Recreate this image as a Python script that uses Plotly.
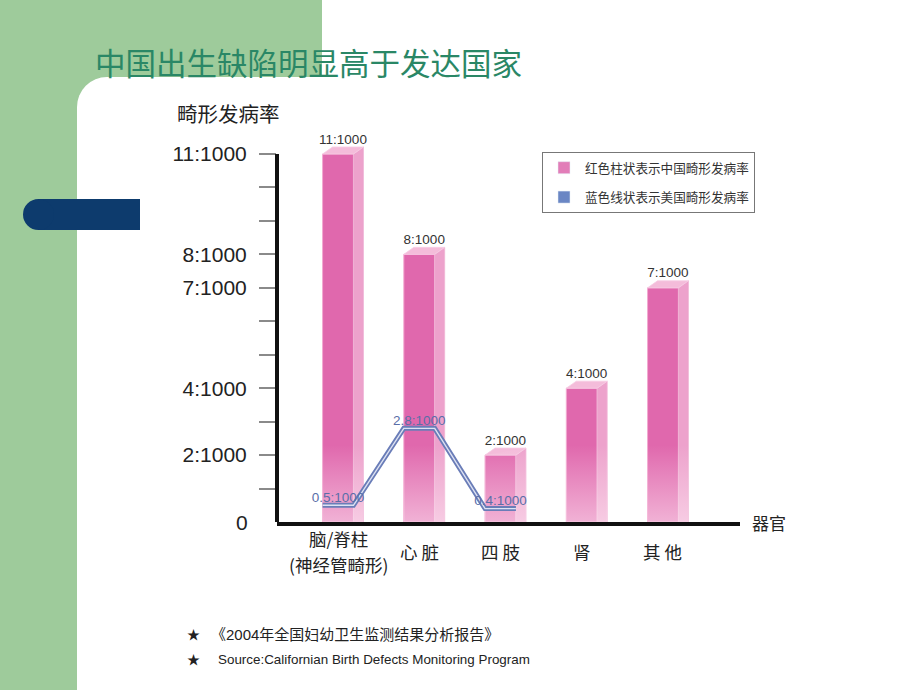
import plotly.graph_objects as go

# ---------------- data ----------------
categories = ["脑/脊柱<br>(神经管畸形)", "心 脏", "四 肢", "肾", "其 他"]
china_rates = [11, 8, 2, 4, 7]
china_labels = ["11:1000", "8:1000", "2:1000", "4:1000", "7:1000"]
usa_rates = [0.5, 2.8, 0.4]
usa_labels = ["0.5:1000", "2.8:1000", "0.4:1000"]
y_tick_vals = [1, 2, 3, 4, 5, 6, 7, 8, 9, 10, 11]
y_tick_text = ["", "2:1000", "", "4:1000", "", "", "7:1000", "8:1000", "", "", "11:1000"]
legend_names = ["红色柱状表示中国畸形发病率", "蓝色线状表示美国畸形发病率"]
title_text = "中国出生缺陷明显高于发达国家"
y_title = "畸形发病率"
x_title = "器官"
zero_label = "0"
notes = ["《2004年全国妇幼卫生监测结果分析报告》",
         "Source:Californian Birth Defects Monitoring Program"]

# ---------------- layout geometry ----------------
W, H = 920, 690
L, R, T, B = 277, 180, 137, 168
PW, PH = W - L - R, H - T - B
XR = [-0.751, 4.948]
YR = [0, 11.508]
FW, DX, DY = 0.38, 0.123, 0.21   # front width, depth offset x, depth offset y

def px(x):
    return (x - L) / PW

def py(y):
    return (H - B - y) / PH

FONT = "Liberation Sans, Arial, Noto Sans CJK SC"
CJK = "Noto Sans CJK SC, Liberation Sans"
PINK_FRONT = "#E068AD"
PINK_SIDE = "#EDA2CC"
PINK_TOP = "#F4BCDA"
BLUE = "#6A7DB8"

fig = go.Figure()

# front faces of the bars
fig.add_trace(go.Bar(
    x=list(range(len(china_rates))), y=china_rates, width=FW,
    marker=dict(color=PINK_FRONT, line=dict(color="#F2A9D0", width=1)),
    showlegend=False, hoverinfo="skip"))

# 3D side & top faces + lightening at bottom
for i, v in enumerate(china_rates):
    xr = i + FW / 2
    xl = i - FW / 2
    fig.add_trace(go.Scatter(
        x=[xr, xr + DX, xr + DX, xr, xr], y=[0, 0, v + DY, v, 0],
        mode="lines", fill="toself", fillcolor=PINK_SIDE,
        line=dict(color="#F0B4D6", width=0.8), showlegend=False, hoverinfo="skip"))
    fig.add_trace(go.Scatter(
        x=[xl, xr, xr + DX, xl + DX, xl], y=[v, v, v + DY, v + DY, v],
        mode="lines", fill="toself", fillcolor=PINK_TOP,
        line=dict(color="#F6CCE3", width=0.8), showlegend=False, hoverinfo="skip"))
    fig.add_trace(go.Scatter(
        x=[xl, xr + DX, xr + DX, xl, xl], y=[0, 0, v + DY, v, 0],
        mode="lines", fill="toself", line=dict(width=0),
        fillgradient=dict(type="vertical", start=0, stop=2.3,
                          colorscale=[[0, "rgba(255,238,246,0.55)"],
                                      [1, "rgba(255,238,246,0)"]]),
        showlegend=False, hoverinfo="skip"))

# blue line (double line look)
lx, ly = [], []
for i, v in enumerate(usa_rates):
    lx += [i - FW / 2, i + FW / 2]
    ly += [v, v]
fig.add_trace(go.Scatter(x=lx, y=ly, mode="lines",
                         line=dict(color=BLUE, width=5),
                         showlegend=False, hoverinfo="skip"))
fig.add_trace(go.Scatter(x=lx, y=ly, mode="lines",
                         line=dict(color="#DDE2F2", width=1.4),
                         showlegend=False, hoverinfo="skip"))

# value labels
fig.add_trace(go.Scatter(
    x=[i + DX / 2 for i in range(len(china_rates))],
    y=[v + DY for v in china_rates], mode="text", text=china_labels,
    textposition="top center", textfont=dict(size=13.5, color="#333333", family=FONT),
    cliponaxis=False, showlegend=False, hoverinfo="skip"))
fig.add_trace(go.Scatter(
    x=list(range(len(usa_rates))), y=usa_rates, mode="text", text=usa_labels,
    textposition="top center", textfont=dict(size=13.5, color="#5A6EA8", family=FONT),
    cliponaxis=False, showlegend=False, hoverinfo="skip"))

# legend entries
fig.add_trace(go.Bar(x=[None], y=[None], name=legend_names[0], legendgroup="cn",
                     marker=dict(color="#E27DB8"), showlegend=True))
fig.add_trace(go.Bar(x=[None], y=[None], name=legend_names[1], legendgroup="us",
                     marker=dict(color="#6A86C4"), showlegend=True))

# ---------------- annotations ----------------
ann = []
for i, c in enumerate(categories):
    lines = c.split("<br>")
    if len(lines) == 1:
        ys = [551]
    else:
        ys = [538, 564]
    for line, yy in zip(lines, ys):
        ann.append(dict(x=i, xref="x", y=py(yy), yref="paper", text=line,
                        showarrow=False, xanchor="center", yanchor="middle",
                        borderpad=0,
                        font=dict(size=17.5, color="#222222", family=CJK)))
ann.append(dict(x=px(769), xref="paper", y=0, yref="y", text=x_title, showarrow=False,
                xanchor="center", yanchor="middle",
                font=dict(size=17, color="#222222", family=CJK)))
ann.append(dict(x=px(228), xref="paper", y=py(113), yref="paper", text=y_title,
                showarrow=False, xanchor="center", yanchor="middle",
                font=dict(size=20.5, color="#222222", family=CJK)))
ann.append(dict(x=px(250), xref="paper", y=0, yref="y", text=zero_label,
                showarrow=False, xanchor="right", yanchor="middle",
                font=dict(size=21, color="#222222", family=FONT)))
ann.append(dict(x=px(308), xref="paper", y=py(62), yref="paper", text=title_text,
                showarrow=False, xanchor="center", yanchor="middle",
                font=dict(size=30.5, color="#2A8766", family=CJK)))
for note, xs, yy, fs in zip(notes, [209, 216], [634, 659], [15, 13.4]):
    ann.append(dict(x=px(193), xref="paper", y=py(yy), yref="paper", text="★",
                    showarrow=False, xanchor="center", yanchor="middle",
                    font=dict(size=13, color="#222222", family=FONT)))
    ann.append(dict(x=px(xs), xref="paper", y=py(yy), yref="paper", text=note,
                    showarrow=False, xanchor="left", yanchor="middle",
                    font=dict(size=fs, color="#222222", family=FONT)))

# ---------------- background shapes ----------------
GREEN = "#9ECB9B"
NAVY = "#0D3B6D"
def rect(x0, y0, x1, y1, color, kind="rect"):
    return dict(type=kind, xref="paper", yref="paper",
                x0=px(x0), x1=px(x1), y0=py(y1), y1=py(y0),
                fillcolor=color, line=dict(width=0), layer="below")

shapes = [
    rect(0, 0, 322, 77, GREEN),
    rect(0, 0, 77, 690, GREEN),
    rect(77, 77, 107, 107, GREEN),
    rect(77, 77, 137, 137, "white", "circle"),
    rect(38, 199, 140, 230, NAVY),
    rect(23, 199, 54, 230, NAVY, "circle"),
    # y axis line up to 11
    dict(type="line", xref="paper", yref="y", x0=0, x1=0, y0=0, y1=11,
         line=dict(color="#111111", width=4), layer="above"),
]

fig.update_layout(
    width=W, height=H,
    margin=dict(l=L, r=R, t=T, b=B, pad=0),
    paper_bgcolor="white", plot_bgcolor="rgba(0,0,0,0)",
    barmode="overlay",
    font=dict(family=FONT),
    showlegend=True,
    legend=dict(x=px(542), y=py(152), xanchor="left", yanchor="top",
                bordercolor="#777777", borderwidth=1, bgcolor="white",
                font=dict(size=12.6, color="#333333", family=CJK),
                itemclick=False, tracegroupgap=10, itemwidth=32),
    xaxis=dict(range=XR, showgrid=False, zeroline=False, showticklabels=False,
               ticks="", showline=True, linecolor="#111111", linewidth=4,
               fixedrange=True),
    yaxis=dict(range=YR, showgrid=False, zeroline=False, showline=False,
               tickmode="array", tickvals=y_tick_vals, ticktext=y_tick_text,
               ticks="outside", ticklen=17, tickwidth=1.5, tickcolor="#8a8a8a",
               ticklabelstandoff=8,
               tickfont=dict(size=21, color="#222222", family=FONT),
               fixedrange=True),
    annotations=ann,
    shapes=shapes,
)

fig.write_html("out.html")
